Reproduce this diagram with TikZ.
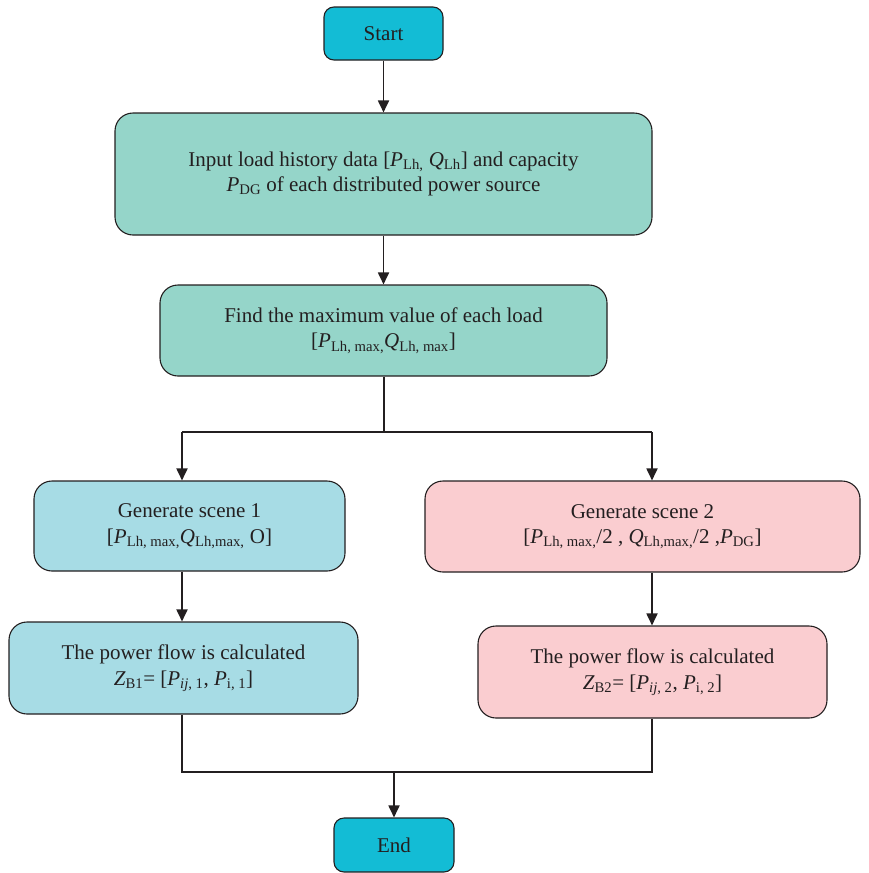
\documentclass[tikz,border=0pt]{standalone}
\usepackage{fontspec}
\setmainfont{Liberation Serif}
\usetikzlibrary{arrows.meta,calc}
\definecolor{cyanbox}{HTML}{13BCD5}
\definecolor{tealbox}{HTML}{95D5C9}
\definecolor{bluebox}{HTML}{A7DCE5}
\definecolor{pinkbox}{HTML}{FACDD0}
\definecolor{edge}{HTML}{231F20}
\newcommand{\sub}[1]{\textsubscript{#1}}
\newcommand{\vP}{\textit{P}}
\newcommand{\vQ}{\textit{Q}}
\newcommand{\vZ}{\textit{Z}}
\begin{document}
\begin{tikzpicture}[x=1pt,y=-1pt,
  box/.style={draw=edge, line width=1.1pt, rounded corners=18pt, align=center,
    font=\fontsize{21}{25.5}\selectfont, text=edge, inner sep=0pt},
  term/.style={box, fill=cyanbox, rounded corners=10pt},
  line/.style={draw=edge, line width=1.2pt},
  arr/.style={draw=edge, line width=1.8pt, -{Triangle[length=12pt,width=11pt]}}]
\useasboundingbox (0,0) rectangle (868,873);
\node[term, minimum width=119pt, minimum height=53pt] (start) at (383.5,33.5) {Start};
\node[box, fill=tealbox, minimum width=537pt, minimum height=122pt] (input) at (383.5,174)
  {Input load history data {[}\vP\sub{Lh,} \vQ\sub{Lh}{]} and capacity\\ \vP\sub{DG} of each distributed power source};
\node[box, fill=tealbox, minimum width=447pt, minimum height=91pt] (max) at (383.5,330.5)
  {Find the maximum value of each load\\{}{[}\vP\sub{Lh, max,}\vQ\sub{Lh, max}{]}};
\node[box, fill=bluebox, minimum width=311pt, minimum height=90pt] (sc1) at (189.5,526)
  {Generate scene 1\\{}{[}\vP\sub{Lh, max,}\vQ\sub{Lh,max,} O{]}};
\node[box, fill=pinkbox, minimum width=435pt, minimum height=91pt] (sc2) at (642.5,526.5)
  {Generate scene 2\\{}{[}\vP\sub{Lh, max,}/2 , \vQ\sub{Lh,max,}/2 ,\vP\sub{DG}{]}};
\node[box, fill=bluebox, minimum width=349pt, minimum height=92pt] (pf1) at (183.5,668)
  {The power flow is calculated\\ \vZ\sub{B1}= {[}\vP\sub{\textit{ij}, 1}, \vP\sub{i, 1}{]}};
\node[box, fill=pinkbox, minimum width=349pt, minimum height=92pt] (pf2) at (652.5,672)
  {The power flow is calculated\\ \vZ\sub{B2}= {[}\vP\sub{\textit{ij}, 2}, \vP\sub{i, 2}{]}};
\node[term, minimum width=120pt, minimum height=54pt] (end) at (394,845) {End};
\coordinate (split) at (384,432);
\coordinate (sl) at (182,432);
\coordinate (sr) at (652,432);
\coordinate (ml) at (182,772);
\coordinate (mr) at (652,772);
\coordinate (mc) at (394,772);
\draw[arr] (start) -- (input);
\draw[arr] (input.south -| start) -- (max.north -| start);
\draw[line] (max.south -| split) -- (split);
\draw[line] (sl) -- (sr);
\draw[arr] (sl) -- (sl |- sc1.north);
\draw[arr] (sr) -- (sr |- sc2.north);
\draw[arr] (sl |- sc1.south) -- (sl |- pf1.north);
\draw[arr] (sr |- sc2.south) -- (sr |- pf2.north);
\draw[line] (ml |- pf1.south) -- (ml) -- (mr) -- (mr |- pf2.south);
\draw[arr] (mc) -- (end);
\end{tikzpicture}
\end{document}
